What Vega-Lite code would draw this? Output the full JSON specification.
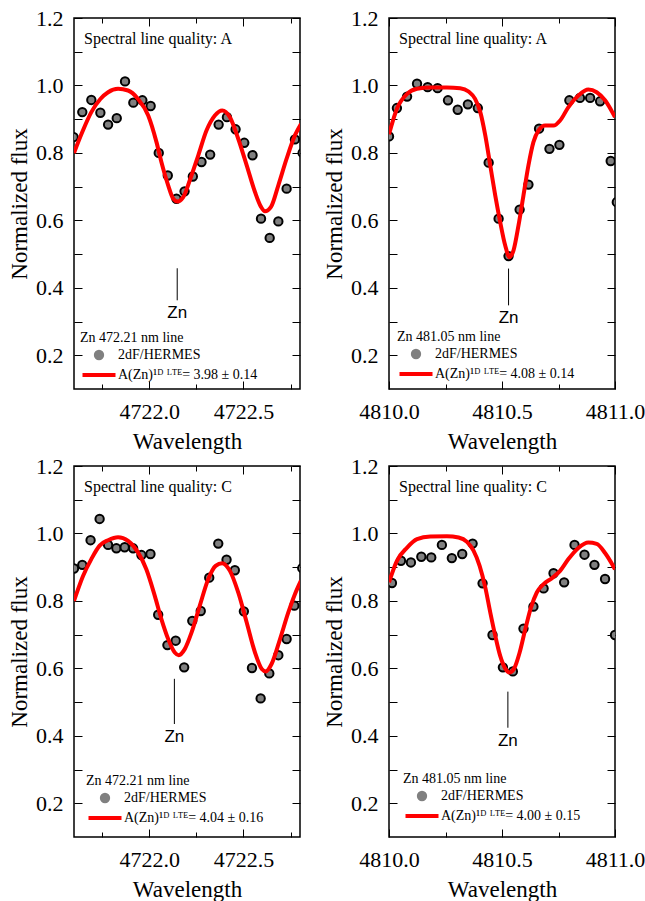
{
  "$schema": "https://vega.github.io/schema/vega-lite/v6.json",
  "padding": {"left": 7, "top": 6, "right": 5, "bottom": 5},
  "datasets": {
    "tl_obs": [
      {"wl": 4721.598, "flux": 0.847}, {"wl": 4721.644, "flux": 0.921}, {"wl": 4721.692, "flux": 0.957}, {"wl": 4721.740, "flux": 0.919},
      {"wl": 4721.781, "flux": 0.884}, {"wl": 4721.827, "flux": 0.903}, {"wl": 4721.871, "flux": 1.012}, {"wl": 4721.915, "flux": 0.949},
      {"wl": 4721.963, "flux": 0.956}, {"wl": 4722.007, "flux": 0.939}, {"wl": 4722.050, "flux": 0.800}, {"wl": 4722.098, "flux": 0.733},
      {"wl": 4722.144, "flux": 0.664}, {"wl": 4722.187, "flux": 0.686}, {"wl": 4722.231, "flux": 0.730}, {"wl": 4722.277, "flux": 0.773},
      {"wl": 4722.323, "flux": 0.795}, {"wl": 4722.368, "flux": 0.884}, {"wl": 4722.412, "flux": 0.906}, {"wl": 4722.458, "flux": 0.870},
      {"wl": 4722.504, "flux": 0.830}, {"wl": 4722.548, "flux": 0.793}, {"wl": 4722.593, "flux": 0.605}, {"wl": 4722.639, "flux": 0.548},
      {"wl": 4722.685, "flux": 0.597}, {"wl": 4722.729, "flux": 0.694}, {"wl": 4722.773, "flux": 0.840}, {"wl": 4722.814, "flux": 0.800}
    ],
    "tl_fit": [
      {"wl": 4721.600, "flux": 0.800}, {"wl": 4721.644, "flux": 0.862}, {"wl": 4721.692, "flux": 0.921}, {"wl": 4721.740, "flux": 0.960},
      {"wl": 4721.781, "flux": 0.980}, {"wl": 4721.834, "flux": 0.990}, {"wl": 4721.887, "flux": 0.985}, {"wl": 4721.940, "flux": 0.960},
      {"wl": 4721.994, "flux": 0.911}, {"wl": 4722.038, "flux": 0.832}, {"wl": 4722.064, "flux": 0.773}, {"wl": 4722.100, "flux": 0.704},
      {"wl": 4722.127, "flux": 0.664}, {"wl": 4722.149, "flux": 0.656}, {"wl": 4722.180, "flux": 0.669}, {"wl": 4722.215, "flux": 0.719},
      {"wl": 4722.260, "flux": 0.793}, {"wl": 4722.304, "flux": 0.867}, {"wl": 4722.348, "flux": 0.911}, {"wl": 4722.387, "flux": 0.926},
      {"wl": 4722.428, "flux": 0.906}, {"wl": 4722.472, "flux": 0.842}, {"wl": 4722.517, "flux": 0.763}, {"wl": 4722.561, "flux": 0.684},
      {"wl": 4722.593, "flux": 0.640}, {"wl": 4722.614, "flux": 0.627}, {"wl": 4722.646, "flux": 0.640}, {"wl": 4722.685, "flux": 0.704},
      {"wl": 4722.729, "flux": 0.783}, {"wl": 4722.773, "flux": 0.852}, {"wl": 4722.805, "flux": 0.886}
    ],
    "tr_obs": [
      {"wl": 4810.000, "flux": 0.849}, {"wl": 4810.035, "flux": 0.933}, {"wl": 4810.080, "flux": 0.967}, {"wl": 4810.124, "flux": 1.005},
      {"wl": 4810.171, "flux": 0.995}, {"wl": 4810.215, "flux": 0.992}, {"wl": 4810.261, "flux": 0.956}, {"wl": 4810.304, "flux": 0.928},
      {"wl": 4810.349, "flux": 0.944}, {"wl": 4810.393, "flux": 0.933}, {"wl": 4810.441, "flux": 0.771}, {"wl": 4810.485, "flux": 0.605},
      {"wl": 4810.529, "flux": 0.494}, {"wl": 4810.578, "flux": 0.632}, {"wl": 4810.617, "flux": 0.706}, {"wl": 4810.664, "flux": 0.872},
      {"wl": 4810.710, "flux": 0.812}, {"wl": 4810.754, "flux": 0.824}, {"wl": 4810.798, "flux": 0.956}, {"wl": 4810.845, "flux": 0.963},
      {"wl": 4810.890, "flux": 0.963}, {"wl": 4810.934, "flux": 0.953}, {"wl": 4810.981, "flux": 0.776}, {"wl": 4811.008, "flux": 0.654}
    ],
    "tr_fit": [
      {"wl": 4810.000, "flux": 0.855}, {"wl": 4810.035, "flux": 0.931}, {"wl": 4810.080, "flux": 0.975}, {"wl": 4810.124, "flux": 0.990},
      {"wl": 4810.183, "flux": 0.994}, {"wl": 4810.256, "flux": 0.994}, {"wl": 4810.315, "flux": 0.992}, {"wl": 4810.352, "flux": 0.982},
      {"wl": 4810.381, "flux": 0.960}, {"wl": 4810.404, "flux": 0.921}, {"wl": 4810.426, "flux": 0.852}, {"wl": 4810.448, "flux": 0.763},
      {"wl": 4810.470, "flux": 0.674}, {"wl": 4810.492, "flux": 0.595}, {"wl": 4810.514, "flux": 0.526}, {"wl": 4810.533, "flux": 0.491},
      {"wl": 4810.551, "flux": 0.511}, {"wl": 4810.573, "flux": 0.585}, {"wl": 4810.595, "flux": 0.674}, {"wl": 4810.617, "flux": 0.763},
      {"wl": 4810.639, "flux": 0.832}, {"wl": 4810.662, "flux": 0.867}, {"wl": 4810.691, "flux": 0.881}, {"wl": 4810.728, "flux": 0.881},
      {"wl": 4810.757, "flux": 0.896}, {"wl": 4810.794, "flux": 0.936}, {"wl": 4810.838, "flux": 0.970}, {"wl": 4810.882, "flux": 0.988},
      {"wl": 4810.919, "flux": 0.980}, {"wl": 4810.956, "flux": 0.956}, {"wl": 4811.000, "flux": 0.906}
    ],
    "bl_obs": [
      {"wl": 4721.600, "flux": 0.896}, {"wl": 4721.644, "flux": 0.907}, {"wl": 4721.688, "flux": 0.980}, {"wl": 4721.736, "flux": 1.043},
      {"wl": 4721.781, "flux": 0.966}, {"wl": 4721.825, "flux": 0.956}, {"wl": 4721.869, "flux": 0.959}, {"wl": 4721.914, "flux": 0.956},
      {"wl": 4721.958, "flux": 0.936}, {"wl": 4722.006, "flux": 0.939}, {"wl": 4722.047, "flux": 0.759}, {"wl": 4722.096, "flux": 0.669},
      {"wl": 4722.140, "flux": 0.682}, {"wl": 4722.185, "flux": 0.603}, {"wl": 4722.228, "flux": 0.741}, {"wl": 4722.273, "flux": 0.770},
      {"wl": 4722.318, "flux": 0.869}, {"wl": 4722.366, "flux": 0.970}, {"wl": 4722.410, "flux": 0.922}, {"wl": 4722.454, "flux": 0.891},
      {"wl": 4722.502, "flux": 0.769}, {"wl": 4722.545, "flux": 0.601}, {"wl": 4722.591, "flux": 0.511}, {"wl": 4722.637, "flux": 0.585},
      {"wl": 4722.685, "flux": 0.639}, {"wl": 4722.729, "flux": 0.687}, {"wl": 4722.770, "flux": 0.786}, {"wl": 4722.812, "flux": 0.897}
    ],
    "bl_fit": [
      {"wl": 4721.600, "flux": 0.800}, {"wl": 4721.648, "flux": 0.874}, {"wl": 4721.692, "flux": 0.924}, {"wl": 4721.736, "flux": 0.964},
      {"wl": 4721.781, "flux": 0.980}, {"wl": 4721.834, "flux": 0.989}, {"wl": 4721.887, "flux": 0.978}, {"wl": 4721.940, "flux": 0.944},
      {"wl": 4721.984, "flux": 0.894}, {"wl": 4722.029, "flux": 0.815}, {"wl": 4722.064, "flux": 0.746}, {"wl": 4722.100, "flux": 0.687},
      {"wl": 4722.135, "flux": 0.647}, {"wl": 4722.156, "flux": 0.639}, {"wl": 4722.188, "flux": 0.657}, {"wl": 4722.224, "flux": 0.706},
      {"wl": 4722.268, "flux": 0.786}, {"wl": 4722.313, "flux": 0.865}, {"wl": 4722.352, "flux": 0.904}, {"wl": 4722.387, "flux": 0.912},
      {"wl": 4722.428, "flux": 0.889}, {"wl": 4722.472, "flux": 0.825}, {"wl": 4722.517, "flux": 0.736}, {"wl": 4722.561, "flux": 0.647},
      {"wl": 4722.597, "flux": 0.598}, {"wl": 4722.618, "flux": 0.591}, {"wl": 4722.649, "flux": 0.613}, {"wl": 4722.694, "flux": 0.687},
      {"wl": 4722.738, "flux": 0.766}, {"wl": 4722.773, "flux": 0.820}, {"wl": 4722.805, "flux": 0.860}
    ],
    "br_obs": [
      {"wl": 4810.013, "flux": 0.853}, {"wl": 4810.053, "flux": 0.919}, {"wl": 4810.097, "flux": 0.914}, {"wl": 4810.143, "flux": 0.931},
      {"wl": 4810.187, "flux": 0.929}, {"wl": 4810.234, "flux": 0.966}, {"wl": 4810.278, "flux": 0.927}, {"wl": 4810.324, "flux": 0.939},
      {"wl": 4810.370, "flux": 0.970}, {"wl": 4810.414, "flux": 0.852}, {"wl": 4810.458, "flux": 0.699}, {"wl": 4810.504, "flux": 0.603},
      {"wl": 4810.548, "flux": 0.591}, {"wl": 4810.595, "flux": 0.718}, {"wl": 4810.639, "flux": 0.783}, {"wl": 4810.684, "flux": 0.837},
      {"wl": 4810.728, "flux": 0.882}, {"wl": 4810.775, "flux": 0.855}, {"wl": 4810.821, "flux": 0.966}, {"wl": 4810.865, "flux": 0.937},
      {"wl": 4810.909, "flux": 0.907}, {"wl": 4810.956, "flux": 0.865}, {"wl": 4811.000, "flux": 0.699}
    ],
    "br_fit": [
      {"wl": 4810.000, "flux": 0.855}, {"wl": 4810.035, "flux": 0.919}, {"wl": 4810.080, "flux": 0.958}, {"wl": 4810.124, "flux": 0.983},
      {"wl": 4810.183, "flux": 0.991}, {"wl": 4810.256, "flux": 0.992}, {"wl": 4810.308, "flux": 0.988}, {"wl": 4810.345, "flux": 0.975},
      {"wl": 4810.374, "flux": 0.949}, {"wl": 4810.401, "flux": 0.904}, {"wl": 4810.426, "flux": 0.840}, {"wl": 4810.448, "flux": 0.766},
      {"wl": 4810.470, "flux": 0.697}, {"wl": 4810.492, "flux": 0.637}, {"wl": 4810.514, "flux": 0.600}, {"wl": 4810.533, "flux": 0.588},
      {"wl": 4810.554, "flux": 0.600}, {"wl": 4810.578, "flux": 0.647}, {"wl": 4810.603, "flux": 0.716}, {"wl": 4810.628, "flux": 0.780},
      {"wl": 4810.654, "flux": 0.825}, {"wl": 4810.684, "flux": 0.850}, {"wl": 4810.720, "flux": 0.867}, {"wl": 4810.757, "flux": 0.889},
      {"wl": 4810.794, "flux": 0.924}, {"wl": 4810.838, "flux": 0.957}, {"wl": 4810.882, "flux": 0.973}, {"wl": 4810.919, "flux": 0.969},
      {"wl": 4810.956, "flux": 0.942}, {"wl": 4811.000, "flux": 0.894}
    ],
    "tl_zn": [{"wl": 4722.148, "top": 0.458, "bottom": 0.363, "label": "Zn"}],
    "tr_zn": [{"wl": 4810.529, "top": 0.457, "bottom": 0.348, "label": "Zn"}],
    "bl_zn": [{"wl": 4722.133, "top": 0.569, "bottom": 0.435, "label": "Zn"}],
    "br_zn": [{"wl": 4810.526, "top": 0.531, "bottom": 0.424, "label": "Zn"}]
  },
  "columns": 2,
  "spacing": {"row": 0, "column": 20},
  "resolve": {"scale": {"x": "independent", "y": "independent", "color": "independent", "stroke": "independent", "shape": "independent", "size": "independent", "strokeWidth": "independent"}, "legend": {"color": "independent", "stroke": "independent", "shape": "independent", "size": "independent", "strokeWidth": "independent"}},
  "concat": [
    {
      "width": 226, "height": 371,
      "title": {"text": "Spectral line quality: A"},
      "resolve": {"axis": {"x": "independent", "y": "independent"}},
      "layer": [
        {"data": {"name": "tl_obs"}, "mark": {"type": "point", "filled": true, "opacity": 1, "clip": true},
         "encoding": {
           "x": {"field": "wl", "type": "quantitative", "scale": {"domain": [4721.6, 4722.8], "nice": false, "zero": false}, "axis": {"orient": "bottom", "values": [4722.0, 4722.5], "format": ".1f", "tickSize": -8, "labelPadding": 20, "title": "Wavelength", "titlePadding": 8}},
           "y": {"field": "flux", "type": "quantitative", "scale": {"domain": [0.1, 1.2], "nice": false, "zero": false}, "axis": {"orient": "left", "values": [0.2, 0.4, 0.6, 0.8, 1.0, 1.2], "format": ".1f", "tickSize": -8, "labelPadding": 19, "title": "Normalized flux", "titlePadding": 4}},
           "color": {"datum": "2dF/HERMES", "type": "nominal", "scale": {"domain": ["2dF/HERMES", "A(Zn)¹ᴰ ᴸᵀᴱ= 3.98 ± 0.14"], "range": ["#808080", "#ff0000"]}, "legend": {"title": "Zn 472.21 nm line", "offset": 6}},
           "stroke": {"datum": "2dF/HERMES", "type": "nominal", "scale": {"domain": ["2dF/HERMES", "A(Zn)¹ᴰ ᴸᵀᴱ= 3.98 ± 0.14"], "range": ["black", "#ff0000"]}, "legend": {"title": "Zn 472.21 nm line", "offset": 6}},
           "shape": {"datum": "2dF/HERMES", "type": "nominal", "scale": {"domain": ["2dF/HERMES", "A(Zn)¹ᴰ ᴸᵀᴱ= 3.98 ± 0.14"], "range": ["circle", "stroke"]}, "legend": {"title": "Zn 472.21 nm line", "offset": 6}},
           "size": {"datum": "2dF/HERMES", "type": "ordinal", "scale": {"type": "point", "padding": 0, "domain": ["2dF/HERMES", "A(Zn)¹ᴰ ᴸᵀᴱ= 3.98 ± 0.14"], "range": [70, 1089]}, "legend": {"title": "Zn 472.21 nm line", "offset": 6}},
           "strokeWidth": {"datum": "2dF/HERMES", "type": "ordinal", "scale": {"type": "point", "padding": 0, "domain": ["2dF/HERMES", "A(Zn)¹ᴰ ᴸᵀᴱ= 3.98 ± 0.14"], "range": [2, 4]}, "legend": {"title": "Zn 472.21 nm line", "offset": 6}}
         }},
        {"data": {"name": "tl_fit"}, "mark": {"type": "line", "strokeWidth": 4, "interpolate": "monotone", "clip": true},
         "encoding": {
           "x": {"field": "wl", "type": "quantitative", "scale": {"domain": [4721.6, 4722.8], "nice": false, "zero": false}, "axis": {"orient": "top", "values": [4722.0, 4722.5], "tickSize": -8, "labels": false, "title": null}},
           "y": {"field": "flux", "type": "quantitative", "scale": {"domain": [0.1, 1.2], "nice": false, "zero": false}, "axis": {"orient": "right", "values": [0.2, 0.4, 0.6, 0.8, 1.0, 1.2], "tickSize": -8, "labels": false, "title": null}},
           "color": {"datum": "A(Zn)¹ᴰ ᴸᵀᴱ= 3.98 ± 0.14", "type": "nominal", "legend": null}
         }},
        {"data": {"name": "tl_zn"}, "mark": {"type": "rule", "color": "black", "strokeWidth": 1},
         "encoding": {
           "x": {"field": "wl", "type": "quantitative", "scale": {"domain": [4721.6, 4722.8], "nice": false, "zero": false}, "axis": {"orient": "bottom", "values": [4721.75, 4722.25, 4722.75], "tickSize": -5, "labels": false, "title": null}},
           "y": {"field": "top", "type": "quantitative", "scale": {"domain": [0.1, 1.2], "nice": false, "zero": false}, "axis": {"orient": "left", "values": [0.3, 0.5, 0.7, 0.9, 1.1], "tickSize": -8, "labels": false, "title": null}},
           "y2": {"field": "bottom"}
         }},
        {"data": {"name": "tl_zn"}, "mark": {"type": "text", "font": "Liberation Sans", "fontSize": 17, "baseline": "top", "dy": 5, "color": "black"},
         "encoding": {
           "x": {"field": "wl", "type": "quantitative", "scale": {"domain": [4721.6, 4722.8], "nice": false, "zero": false}, "axis": {"orient": "top", "values": [4721.75, 4722.25, 4722.75], "tickSize": -5, "labels": false, "title": null}},
           "y": {"field": "bottom", "type": "quantitative", "scale": {"domain": [0.1, 1.2], "nice": false, "zero": false}, "axis": {"orient": "right", "values": [0.3, 0.5, 0.7, 0.9, 1.1], "tickSize": -8, "labels": false, "title": null}},
           "text": {"field": "label"}
         }}
      ]
    },
    {
      "width": 226, "height": 371,
      "title": {"text": "Spectral line quality: A"},
      "resolve": {"axis": {"x": "independent", "y": "independent"}},
      "layer": [
        {"data": {"name": "tr_obs"}, "mark": {"type": "point", "filled": true, "opacity": 1, "clip": true},
         "encoding": {
           "x": {"field": "wl", "type": "quantitative", "scale": {"domain": [4810.0, 4811.0], "nice": false, "zero": false}, "axis": {"orient": "bottom", "values": [4810.0, 4810.5, 4811.0], "format": ".1f", "tickSize": -8, "labelPadding": 20, "title": "Wavelength", "titlePadding": 8}},
           "y": {"field": "flux", "type": "quantitative", "scale": {"domain": [0.1, 1.2], "nice": false, "zero": false}, "axis": {"orient": "left", "values": [0.2, 0.4, 0.6, 0.8, 1.0, 1.2], "format": ".1f", "tickSize": -8, "labelPadding": 19, "title": "Normalized flux", "titlePadding": 4}},
           "color": {"datum": "2dF/HERMES", "type": "nominal", "scale": {"domain": ["2dF/HERMES", "A(Zn)¹ᴰ ᴸᵀᴱ= 4.08 ± 0.14"], "range": ["#808080", "#ff0000"]}, "legend": {"title": "Zn 481.05 nm line", "offset": 7.5}},
           "stroke": {"datum": "2dF/HERMES", "type": "nominal", "scale": {"domain": ["2dF/HERMES", "A(Zn)¹ᴰ ᴸᵀᴱ= 4.08 ± 0.14"], "range": ["black", "#ff0000"]}, "legend": {"title": "Zn 481.05 nm line", "offset": 7.5}},
           "shape": {"datum": "2dF/HERMES", "type": "nominal", "scale": {"domain": ["2dF/HERMES", "A(Zn)¹ᴰ ᴸᵀᴱ= 4.08 ± 0.14"], "range": ["circle", "stroke"]}, "legend": {"title": "Zn 481.05 nm line", "offset": 7.5}},
           "size": {"datum": "2dF/HERMES", "type": "ordinal", "scale": {"type": "point", "padding": 0, "domain": ["2dF/HERMES", "A(Zn)¹ᴰ ᴸᵀᴱ= 4.08 ± 0.14"], "range": [70, 1089]}, "legend": {"title": "Zn 481.05 nm line", "offset": 7.5}},
           "strokeWidth": {"datum": "2dF/HERMES", "type": "ordinal", "scale": {"type": "point", "padding": 0, "domain": ["2dF/HERMES", "A(Zn)¹ᴰ ᴸᵀᴱ= 4.08 ± 0.14"], "range": [2, 4]}, "legend": {"title": "Zn 481.05 nm line", "offset": 7.5}}
         }},
        {"data": {"name": "tr_fit"}, "mark": {"type": "line", "strokeWidth": 4, "interpolate": "monotone", "clip": true},
         "encoding": {
           "x": {"field": "wl", "type": "quantitative", "scale": {"domain": [4810.0, 4811.0], "nice": false, "zero": false}, "axis": {"orient": "top", "values": [4810.0, 4810.5, 4811.0], "tickSize": -8, "labels": false, "title": null}},
           "y": {"field": "flux", "type": "quantitative", "scale": {"domain": [0.1, 1.2], "nice": false, "zero": false}, "axis": {"orient": "right", "values": [0.2, 0.4, 0.6, 0.8, 1.0, 1.2], "tickSize": -8, "labels": false, "title": null}},
           "color": {"datum": "A(Zn)¹ᴰ ᴸᵀᴱ= 4.08 ± 0.14", "type": "nominal", "legend": null}
         }},
        {"data": {"name": "tr_zn"}, "mark": {"type": "rule", "color": "black", "strokeWidth": 1},
         "encoding": {
           "x": {"field": "wl", "type": "quantitative", "scale": {"domain": [4810.0, 4811.0], "nice": false, "zero": false}, "axis": {"orient": "bottom", "values": [4810.25, 4810.75], "tickSize": -5, "labels": false, "title": null}},
           "y": {"field": "top", "type": "quantitative", "scale": {"domain": [0.1, 1.2], "nice": false, "zero": false}, "axis": {"orient": "left", "values": [0.3, 0.5, 0.7, 0.9, 1.1], "tickSize": -8, "labels": false, "title": null}},
           "y2": {"field": "bottom"}
         }},
        {"data": {"name": "tr_zn"}, "mark": {"type": "text", "font": "Liberation Sans", "fontSize": 17, "baseline": "top", "dy": 5, "color": "black"},
         "encoding": {
           "x": {"field": "wl", "type": "quantitative", "scale": {"domain": [4810.0, 4811.0], "nice": false, "zero": false}, "axis": {"orient": "top", "values": [4810.25, 4810.75], "tickSize": -5, "labels": false, "title": null}},
           "y": {"field": "bottom", "type": "quantitative", "scale": {"domain": [0.1, 1.2], "nice": false, "zero": false}, "axis": {"orient": "right", "values": [0.3, 0.5, 0.7, 0.9, 1.1], "tickSize": -8, "labels": false, "title": null}},
           "text": {"field": "label"}
         }}
      ]
    },
    {
      "width": 226, "height": 371,
      "title": {"text": "Spectral line quality: C"},
      "resolve": {"axis": {"x": "independent", "y": "independent"}},
      "layer": [
        {"data": {"name": "bl_obs"}, "mark": {"type": "point", "filled": true, "opacity": 1, "clip": true},
         "encoding": {
           "x": {"field": "wl", "type": "quantitative", "scale": {"domain": [4721.6, 4722.8], "nice": false, "zero": false}, "axis": {"orient": "bottom", "values": [4722.0, 4722.5], "format": ".1f", "tickSize": -8, "labelPadding": 20, "title": "Wavelength", "titlePadding": 8}},
           "y": {"field": "flux", "type": "quantitative", "scale": {"domain": [0.1, 1.2], "nice": false, "zero": false}, "axis": {"orient": "left", "values": [0.2, 0.4, 0.6, 0.8, 1.0, 1.2], "format": ".1f", "tickSize": -8, "labelPadding": 19, "title": "Normalized flux", "titlePadding": 4}},
           "color": {"datum": "2dF/HERMES", "type": "nominal", "scale": {"domain": ["2dF/HERMES", "A(Zn)¹ᴰ ᴸᵀᴱ= 4.04 ± 0.16"], "range": ["#808080", "#ff0000"]}, "legend": {"title": "Zn 472.21 nm line", "offset": 11.5}},
           "stroke": {"datum": "2dF/HERMES", "type": "nominal", "scale": {"domain": ["2dF/HERMES", "A(Zn)¹ᴰ ᴸᵀᴱ= 4.04 ± 0.16"], "range": ["black", "#ff0000"]}, "legend": {"title": "Zn 472.21 nm line", "offset": 11.5}},
           "shape": {"datum": "2dF/HERMES", "type": "nominal", "scale": {"domain": ["2dF/HERMES", "A(Zn)¹ᴰ ᴸᵀᴱ= 4.04 ± 0.16"], "range": ["circle", "stroke"]}, "legend": {"title": "Zn 472.21 nm line", "offset": 11.5}},
           "size": {"datum": "2dF/HERMES", "type": "ordinal", "scale": {"type": "point", "padding": 0, "domain": ["2dF/HERMES", "A(Zn)¹ᴰ ᴸᵀᴱ= 4.04 ± 0.16"], "range": [70, 1089]}, "legend": {"title": "Zn 472.21 nm line", "offset": 11.5}},
           "strokeWidth": {"datum": "2dF/HERMES", "type": "ordinal", "scale": {"type": "point", "padding": 0, "domain": ["2dF/HERMES", "A(Zn)¹ᴰ ᴸᵀᴱ= 4.04 ± 0.16"], "range": [2, 4]}, "legend": {"title": "Zn 472.21 nm line", "offset": 11.5}}
         }},
        {"data": {"name": "bl_fit"}, "mark": {"type": "line", "strokeWidth": 4, "interpolate": "monotone", "clip": true},
         "encoding": {
           "x": {"field": "wl", "type": "quantitative", "scale": {"domain": [4721.6, 4722.8], "nice": false, "zero": false}, "axis": {"orient": "top", "values": [4722.0, 4722.5], "tickSize": -8, "labels": false, "title": null}},
           "y": {"field": "flux", "type": "quantitative", "scale": {"domain": [0.1, 1.2], "nice": false, "zero": false}, "axis": {"orient": "right", "values": [0.2, 0.4, 0.6, 0.8, 1.0, 1.2], "tickSize": -8, "labels": false, "title": null}},
           "color": {"datum": "A(Zn)¹ᴰ ᴸᵀᴱ= 4.04 ± 0.16", "type": "nominal", "legend": null}
         }},
        {"data": {"name": "bl_zn"}, "mark": {"type": "rule", "color": "black", "strokeWidth": 1},
         "encoding": {
           "x": {"field": "wl", "type": "quantitative", "scale": {"domain": [4721.6, 4722.8], "nice": false, "zero": false}, "axis": {"orient": "bottom", "values": [4721.75, 4722.25, 4722.75], "tickSize": -5, "labels": false, "title": null}},
           "y": {"field": "top", "type": "quantitative", "scale": {"domain": [0.1, 1.2], "nice": false, "zero": false}, "axis": {"orient": "left", "values": [0.3, 0.5, 0.7, 0.9, 1.1], "tickSize": -8, "labels": false, "title": null}},
           "y2": {"field": "bottom"}
         }},
        {"data": {"name": "bl_zn"}, "mark": {"type": "text", "font": "Liberation Sans", "fontSize": 17, "baseline": "top", "dy": 5, "color": "black"},
         "encoding": {
           "x": {"field": "wl", "type": "quantitative", "scale": {"domain": [4721.6, 4722.8], "nice": false, "zero": false}, "axis": {"orient": "top", "values": [4721.75, 4722.25, 4722.75], "tickSize": -5, "labels": false, "title": null}},
           "y": {"field": "bottom", "type": "quantitative", "scale": {"domain": [0.1, 1.2], "nice": false, "zero": false}, "axis": {"orient": "right", "values": [0.3, 0.5, 0.7, 0.9, 1.1], "tickSize": -8, "labels": false, "title": null}},
           "text": {"field": "label"}
         }}
      ]
    },
    {
      "width": 226, "height": 371,
      "title": {"text": "Spectral line quality: C"},
      "resolve": {"axis": {"x": "independent", "y": "independent"}},
      "layer": [
        {"data": {"name": "br_obs"}, "mark": {"type": "point", "filled": true, "opacity": 1, "clip": true},
         "encoding": {
           "x": {"field": "wl", "type": "quantitative", "scale": {"domain": [4810.0, 4811.0], "nice": false, "zero": false}, "axis": {"orient": "bottom", "values": [4810.0, 4810.5, 4811.0], "format": ".1f", "tickSize": -8, "labelPadding": 20, "title": "Wavelength", "titlePadding": 8}},
           "y": {"field": "flux", "type": "quantitative", "scale": {"domain": [0.1, 1.2], "nice": false, "zero": false}, "axis": {"orient": "left", "values": [0.2, 0.4, 0.6, 0.8, 1.0, 1.2], "format": ".1f", "tickSize": -8, "labelPadding": 19, "title": "Normalized flux", "titlePadding": 4}},
           "color": {"datum": "2dF/HERMES", "type": "nominal", "scale": {"domain": ["2dF/HERMES", "A(Zn)¹ᴰ ᴸᵀᴱ= 4.00 ± 0.15"], "range": ["#808080", "#ff0000"]}, "legend": {"title": "Zn 481.05 nm line", "offset": 13.5}},
           "stroke": {"datum": "2dF/HERMES", "type": "nominal", "scale": {"domain": ["2dF/HERMES", "A(Zn)¹ᴰ ᴸᵀᴱ= 4.00 ± 0.15"], "range": ["black", "#ff0000"]}, "legend": {"title": "Zn 481.05 nm line", "offset": 13.5}},
           "shape": {"datum": "2dF/HERMES", "type": "nominal", "scale": {"domain": ["2dF/HERMES", "A(Zn)¹ᴰ ᴸᵀᴱ= 4.00 ± 0.15"], "range": ["circle", "stroke"]}, "legend": {"title": "Zn 481.05 nm line", "offset": 13.5}},
           "size": {"datum": "2dF/HERMES", "type": "ordinal", "scale": {"type": "point", "padding": 0, "domain": ["2dF/HERMES", "A(Zn)¹ᴰ ᴸᵀᴱ= 4.00 ± 0.15"], "range": [70, 1089]}, "legend": {"title": "Zn 481.05 nm line", "offset": 13.5}},
           "strokeWidth": {"datum": "2dF/HERMES", "type": "ordinal", "scale": {"type": "point", "padding": 0, "domain": ["2dF/HERMES", "A(Zn)¹ᴰ ᴸᵀᴱ= 4.00 ± 0.15"], "range": [2, 4]}, "legend": {"title": "Zn 481.05 nm line", "offset": 13.5}}
         }},
        {"data": {"name": "br_fit"}, "mark": {"type": "line", "strokeWidth": 4, "interpolate": "monotone", "clip": true},
         "encoding": {
           "x": {"field": "wl", "type": "quantitative", "scale": {"domain": [4810.0, 4811.0], "nice": false, "zero": false}, "axis": {"orient": "top", "values": [4810.0, 4810.5, 4811.0], "tickSize": -8, "labels": false, "title": null}},
           "y": {"field": "flux", "type": "quantitative", "scale": {"domain": [0.1, 1.2], "nice": false, "zero": false}, "axis": {"orient": "right", "values": [0.2, 0.4, 0.6, 0.8, 1.0, 1.2], "tickSize": -8, "labels": false, "title": null}},
           "color": {"datum": "A(Zn)¹ᴰ ᴸᵀᴱ= 4.00 ± 0.15", "type": "nominal", "legend": null}
         }},
        {"data": {"name": "br_zn"}, "mark": {"type": "rule", "color": "black", "strokeWidth": 1},
         "encoding": {
           "x": {"field": "wl", "type": "quantitative", "scale": {"domain": [4810.0, 4811.0], "nice": false, "zero": false}, "axis": {"orient": "bottom", "values": [4810.25, 4810.75], "tickSize": -5, "labels": false, "title": null}},
           "y": {"field": "top", "type": "quantitative", "scale": {"domain": [0.1, 1.2], "nice": false, "zero": false}, "axis": {"orient": "left", "values": [0.3, 0.5, 0.7, 0.9, 1.1], "tickSize": -8, "labels": false, "title": null}},
           "y2": {"field": "bottom"}
         }},
        {"data": {"name": "br_zn"}, "mark": {"type": "text", "font": "Liberation Sans", "fontSize": 17, "baseline": "top", "dy": 5, "color": "black"},
         "encoding": {
           "x": {"field": "wl", "type": "quantitative", "scale": {"domain": [4810.0, 4811.0], "nice": false, "zero": false}, "axis": {"orient": "top", "values": [4810.25, 4810.75], "tickSize": -5, "labels": false, "title": null}},
           "y": {"field": "bottom", "type": "quantitative", "scale": {"domain": [0.1, 1.2], "nice": false, "zero": false}, "axis": {"orient": "right", "values": [0.3, 0.5, 0.7, 0.9, 1.1], "tickSize": -8, "labels": false, "title": null}},
           "text": {"field": "label"}
         }}
      ]
    }
  ],
  "config": {
    "view": {"stroke": "black", "strokeWidth": 1.5},
    "font": "Liberation Serif",
    "axis": {"grid": false, "domain": false, "tickColor": "black", "tickWidth": 1, "labelColor": "black", "labelFont": "Liberation Serif", "labelFontSize": 22, "titleFont": "Liberation Serif", "titleFontSize": 23, "titleFontWeight": "normal", "titleColor": "black", "labelFlush": false, "labelOverlap": false, "labelBound": false},
    "title": {"anchor": "start", "frame": "group", "orient": "top", "offset": -40, "dx": 10, "baseline": "alphabetic", "fontSize": 16, "font": "Liberation Serif", "fontWeight": "normal", "color": "black"},
    "legend": {
      "orient": "bottom-left", "padding": 0,
      "titleFont": "Liberation Serif", "titleFontSize": 14, "titleFontWeight": "normal", "titleColor": "black", "titlePadding": 2,
      "labelFont": "Liberation Serif", "labelFontSize": 14, "labelColor": "black", "labelOffset": 0.5, "labelLimit": 300,
      "symbolOffset": 0.5, "clipHeight": 16, "rowPadding": 4, "symbolOpacity": 1
    }
  }
}
